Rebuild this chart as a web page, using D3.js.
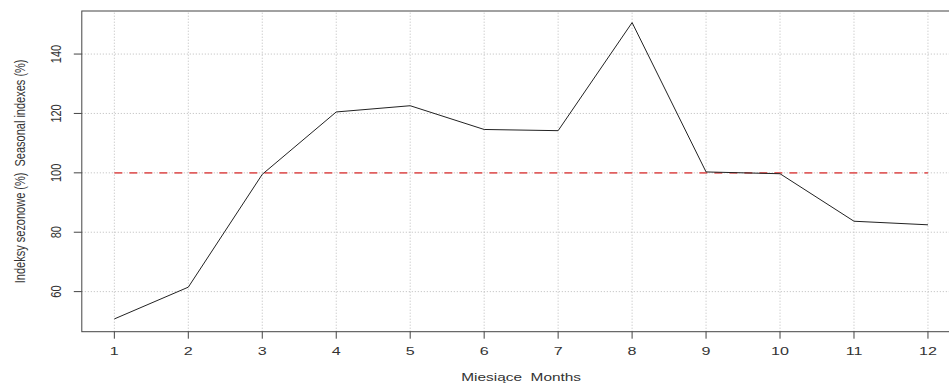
<!DOCTYPE html>
<html>
<head>
<meta charset="utf-8">
<script src="https://d3js.org/d3.v7.min.js"></script>
<style>
  body { margin: 0; background: #fff; }
  text { font-family: "Liberation Sans", Arial, sans-serif; fill: #333; }
</style>
</head>
<body>
<div id="chart"></div>
<script>
  // seasonal indexes per month
  var months = [1, 2, 3, 4, 5, 6, 7, 8, 9, 10, 11, 12];
  var indexes = [50.8, 61.5, 99.5, 120.5, 122.6, 114.6, 114.2, 150.6, 100.3, 99.7, 83.7, 82.5];
  var yTicks = [60, 80, 100, 120, 140];
  var refLevel = 100;

  var width = 949, height = 383;
  var stretch = 1.4; // picture is wider than it is tall, text too

  var svg = d3.select("#chart").append("svg")
    .attr("width", width)
    .attr("height", height);

  var x = d3.scaleLinear().domain([0.56, 12.44]).range([81.8, 960.5]);
  var y = d3.scaleLinear().domain([46.5, 154.5]).range([331.7, 11]);

  // grid
  svg.selectAll("line.vgrid")
    .data(months)
    .enter()
    .append("line")
    .attr("class", "vgrid")
    .attr("x1", function(d) { return x(d); })
    .attr("x2", function(d) { return x(d); })
    .attr("y1", y.range()[0])
    .attr("y2", y.range()[1])
    .attr("stroke", "#bbb")
    .attr("stroke-dasharray", "1,2");

  svg.selectAll("line.hgrid")
    .data(yTicks)
    .enter()
    .append("line")
    .attr("class", "hgrid")
    .attr("x1", x.range()[0])
    .attr("x2", x.range()[1])
    .attr("y1", function(d) { return y(d); })
    .attr("y2", function(d) { return y(d); })
    .attr("stroke", "#bbb")
    .attr("stroke-dasharray", "1,2");

  // reference line at 100
  svg.append("line")
    .attr("x1", x(months[0]))
    .attr("x2", x(months[months.length - 1]))
    .attr("y1", y(refLevel))
    .attr("y2", y(refLevel))
    .attr("stroke", "#e06060")
    .attr("stroke-width", 1.6)
    .attr("stroke-dasharray", "8,7");

  // series
  var line = d3.line()
    .x(function(d, i) { return x(months[i]); })
    .y(function(d) { return y(d); });

  svg.append("path")
    .datum(indexes)
    .attr("d", line)
    .attr("fill", "none")
    .attr("stroke", "#222")
    .attr("stroke-width", 1);

  // box
  svg.append("rect")
    .attr("x", x.range()[0])
    .attr("y", y.range()[1])
    .attr("width", x.range()[1] - x.range()[0])
    .attr("height", y.range()[0] - y.range()[1])
    .attr("fill", "none")
    .attr("stroke", "#444")
    .attr("stroke-width", 1);

  // x axis ticks and labels
  svg.selectAll("line.xtick")
    .data(months)
    .enter()
    .append("line")
    .attr("class", "xtick")
    .attr("x1", function(d) { return x(d); })
    .attr("x2", function(d) { return x(d); })
    .attr("y1", y.range()[0])
    .attr("y2", y.range()[0] + 7)
    .attr("stroke", "#444");

  svg.selectAll("text.xlab")
    .data(months)
    .enter()
    .append("text")
    .attr("class", "xlab")
    .attr("transform", function(d) { return "translate(" + x(d) + ",355) scale(" + stretch + ",1)"; })
    .attr("text-anchor", "middle")
    .attr("font-size", 11.5)
    .text(function(d) { return d; });

  // y axis ticks and labels
  svg.selectAll("line.ytick")
    .data(yTicks)
    .enter()
    .append("line")
    .attr("class", "ytick")
    .attr("x1", x.range()[0] - 8)
    .attr("x2", x.range()[0])
    .attr("y1", function(d) { return y(d); })
    .attr("y2", function(d) { return y(d); })
    .attr("stroke", "#444");

  svg.selectAll("text.ylab")
    .data(yTicks)
    .enter()
    .append("text")
    .attr("class", "ylab")
    .attr("transform", function(d) { return "translate(61," + y(d) + ") scale(" + stretch + ",1) rotate(-90)"; })
    .attr("text-anchor", "middle")
    .attr("font-size", 11)
    .text(function(d) { return d; });

  // axis titles
  svg.append("text")
    .attr("transform", "translate(" + ((x.range()[0] + x.range()[1]) / 2) + ",381) scale(" + stretch + ",1)")
    .attr("text-anchor", "middle")
    .attr("font-size", 11)
    .attr("xml:space", "preserve")
    .text("Miesiące  Months");

  svg.append("text")
    .attr("transform", "translate(25," + ((y.range()[0] + y.range()[1]) / 2) + ") scale(" + stretch + ",1) rotate(-90)")
    .attr("text-anchor", "middle")
    .attr("font-size", 11)
    .attr("xml:space", "preserve")
    .text("Indeksy sezonowe (%)  Seasonal indexes (%)");
</script>
</body>
</html>
